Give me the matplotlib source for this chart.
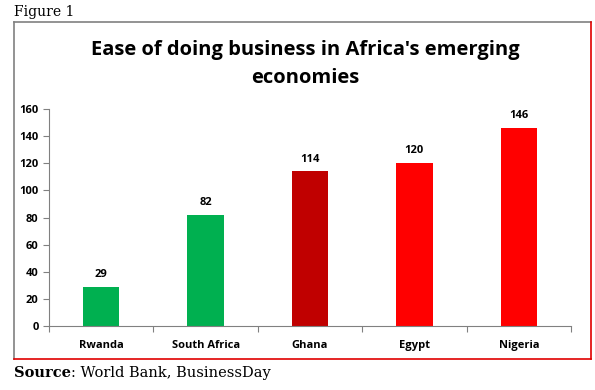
import matplotlib
matplotlib.use("Agg")
import matplotlib.pyplot as plt
from matplotlib.lines import Line2D
from matplotlib.transforms import offset_copy

countries = ["Rwanda", "South Africa", "Ghana", "Egypt", "Nigeria"]
ranks = [29, 82, 114, 120, 146]
bar_colors = ["#00B050", "#00B050", "#C00000", "#FF0000", "#FF0000"]

W, H = 595, 390
fig = plt.figure(figsize=(W / 100, H / 100), dpi=100)

def fx(px):
    return px / W

def fy(py):
    return 1 - py / H

# chart frame: gray left/top, red right/bottom
fig.add_artist(Line2D([fx(14), fx(14)], [fy(22), fy(359)], color="#808080", lw=1.2))
fig.add_artist(Line2D([fx(14), fx(591)], [fy(22), fy(22)], color="#808080", lw=1.2))
fig.add_artist(Line2D([fx(591), fx(591)], [fy(22), fy(359)], color="#E00000", lw=1.2))
fig.add_artist(Line2D([fx(14), fx(591)], [fy(359), fy(359)], color="#E00000", lw=1.2))

ax = fig.add_axes([fx(49), fy(326), fx(571) - fx(49), fy(109) - fy(326)])
x = range(len(countries))
ax.bar(x, ranks, width=0.35, color=bar_colors)
for i, v in enumerate(ranks):
    ax.text(i, v + 5, str(v), ha="center", va="bottom", fontsize=8,
            fontweight="bold", family="Open Sans")

ax.set_xlim(-0.5, len(countries) - 0.5)
ax.set_ylim(0, 160)
ax.set_yticks(range(0, 161, 20))
ax.set_xticks([i - 0.5 for i in range(len(countries) + 1)], minor=False)
ax.set_xticklabels([])
ax.set_xticks(list(x), minor=True)
ax.set_xticklabels(countries, minor=True)
ax.tick_params(axis="x", which="major", length=4, color="#808080", direction="out")
ax.tick_params(axis="x", which="minor", length=0, pad=10)
ax.tick_params(axis="y", length=4, color="#808080", direction="out")
for lab in ax.get_xticklabels(minor=True) + ax.get_yticklabels():
    lab.set_fontsize(8)
    lab.set_fontweight("bold")
    lab.set_family("Open Sans")
for s in ["top", "right"]:
    ax.spines[s].set_visible(False)
for s in ["left", "bottom"]:
    ax.spines[s].set_color("#808080")

fig.text(fx(305), fy(50), "Ease of doing business in Africa's emerging",
         ha="center", va="center", fontsize=14.5, fontweight="bold", family="Open Sans")
fig.text(fx(305), fy(78), "economies", ha="center", va="center",
         fontsize=14.5, fontweight="bold", family="Open Sans")

fig.text(fx(14), fy(12), "Figure 1", ha="left", va="center", fontsize=10,
         family="DejaVu Serif")
src = fig.text(fx(14), fy(373), "Source", ha="left", va="center", fontsize=10.5,
               fontweight="bold", family="DejaVu Serif")
fig.canvas.draw()
w = src.get_window_extent().width
fig.text(fx(14), fy(373), ": World Bank, BusinessDay", ha="left", va="center",
         fontsize=10.5, family="DejaVu Serif",
         transform=offset_copy(fig.transFigure, fig=fig, x=w, y=0, units="dots"))

fig.savefig("out.png", dpi=100)
